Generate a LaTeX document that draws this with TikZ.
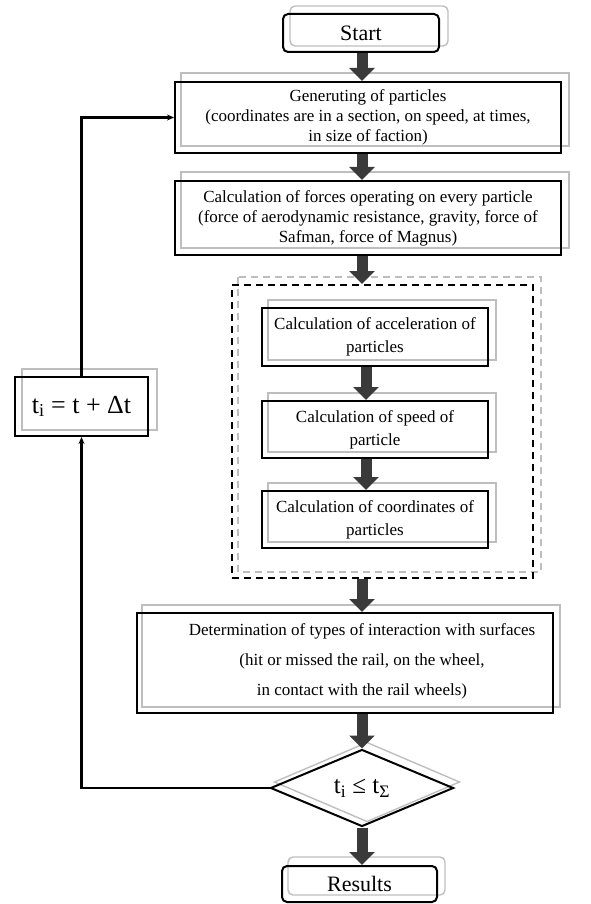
\documentclass[tikz,border=0pt]{standalone}
\usepackage{fontspec}
\setmainfont{Liberation Serif}
\usetikzlibrary{arrows.meta,shapes.geometric,calc,backgrounds}
\definecolor{ghostgray}{HTML}{BEBEBE}
\definecolor{fatgray}{HTML}{3A3A3A}
\begin{document}
\begin{tikzpicture}[x=1pt,y=-1pt,
  box/.style={draw=black, line width=2pt, inner sep=0pt, align=center, font=\fontsize{17}{20}\selectfont},
  rbox/.style={box, rounded corners=5pt, font=\fontsize{22}{24}\selectfont},
  ibox/.style={box, font=\fontsize{17}{23}\selectfont, minimum width=226pt},
  dashbox/.style={draw=black, line width=2pt, dash pattern=on 7pt off 5pt, inner sep=0pt},
  ghost/.style={draw=ghostgray, line width=1.4pt},
  ghostdash/.style={ghost, dash pattern=on 7pt off 5pt},
  fat/.style={draw=fatgray, line width=11pt, -{Triangle[width=25pt,length=13pt]}},
  loopline/.style={draw=black, line width=2.6pt, -{Stealth[length=7pt,width=6pt]}},
  txt/.style={inner sep=0pt, align=center}
]
\useasboundingbox (0,0) rectangle (590,904);

\coordinate (ax) at (362,0);
\coordinate (iax) at (366,0);

\node[rbox, minimum width=156pt, minimum height=38pt] (start) at (361,33) {Start};
\node[box, minimum width=386pt, minimum height=71pt] (gen) at (368,117.5)
  {Generuting of particles\\(coordinates are in a section, on speed, at times,\\in size of faction)};
\node[box, minimum width=386pt, minimum height=74pt] (forces) at (368,218)
  {Calculation of forces operating on every particle\\(force of aerodynamic resistance, gravity, force of\\Safman, force of Magnus)};
\node[dashbox, minimum width=301pt, minimum height=293pt] (grp) at (382.5,431.5) {};
\node[ibox, minimum height=58pt] (accel) at (375,337) {Calculation of acceleration of\\particles};
\node[ibox, minimum height=57pt] (speed) at (375,429.5) {Calculation of speed of\\particle};
\node[ibox, minimum height=57pt] (coord) at (375,519.5) {Calculation of coordinates of\\particles};
\node[box, minimum width=416pt, minimum height=100pt] (determ) at (345,663) {};
\node[txt, font=\fontsize{17}{30}\selectfont] (determtxt) at (362,661)
  {Determination of types of interaction with surfaces\\(hit or missed the rail, on the wheel,\\in contact with the rail wheels)};
\node[diamond, draw=black, line width=2pt, minimum width=183pt, minimum height=77pt, inner sep=0pt, aspect=2.4,
  font=\fontsize{25}{28}\selectfont] (dec) at (362,788) {t\textsubscript{i} ≤ t\textsubscript{Σ}};
\node[rbox, minimum width=155pt, minimum height=36pt] (results) at (359.5,884) {Results};
\node[box, minimum width=133pt, minimum height=59pt, font=\fontsize{26}{28}\selectfont] (tbox) at (81.5,406.5)
  {t\textsubscript{i} = t + Δt};

\begin{pgfonlayer}{background}
  \draw[ghost, rounded corners=5pt] ([shift={(8,-7)}]start.north west) rectangle ([shift={(8,-7)}]start.south east);
  \draw[ghost] ([shift={(7,-8)}]gen.north west) rectangle ([shift={(7,-8)}]gen.south east);
  \draw[ghost] ([shift={(7,-8)}]forces.north west) rectangle ([shift={(7,-8)}]forces.south east);
  \draw[ghostdash] ([shift={(7,-7)}]grp.north west) rectangle ([shift={(7,-7)}]grp.south east);
  \draw[ghost] ([shift={(7,-7)}]accel.north west) rectangle ([shift={(7,-7)}]accel.south east);
  \draw[ghost] ([shift={(7,-7)}]speed.north west) rectangle ([shift={(7,-7)}]speed.south east);
  \draw[ghost] ([shift={(7,-7)}]coord.north west) rectangle ([shift={(7,-7)}]coord.south east);
  \draw[ghost] ([shift={(6,-7)}]determ.north west) rectangle ([shift={(6,-7)}]determ.south east);
  \draw[ghost] ([shift={(5,-6)}]dec.north) -- ([shift={(5,-6)}]dec.east) -- ([shift={(5,-6)}]dec.south) -- ([shift={(5,-6)}]dec.west) -- cycle;
  \draw[ghost, rounded corners=5pt] ([shift={(7,-8)}]results.north west) rectangle ([shift={(7,-8)}]results.south east);
  \draw[ghost] ([shift={(8,-7)}]tbox.north west) rectangle ([shift={(8,-7)}]tbox.south east);
\end{pgfonlayer}

\draw[fat] (start.south -| ax) -- (gen.north -| ax);
\draw[fat] (gen.south -| ax) -- (forces.north -| ax);
\draw[fat] (forces.south -| ax) -- (grp.north -| ax);
\draw[fat] (accel.south -| iax) -- (speed.north -| iax);
\draw[fat] (speed.south -| iax) -- (coord.north -| iax);
\draw[fat] (grp.south -| ax) -- (determ.north -| ax);
\draw[fat] (determ.south -| ax) -- (dec.north);
\draw[fat] (dec.south) -- (results.north -| ax);

\draw[loopline] (dec.west) -| (tbox.south);
\draw[loopline] (tbox.north) |- (gen.west);
\end{tikzpicture}
\end{document}
